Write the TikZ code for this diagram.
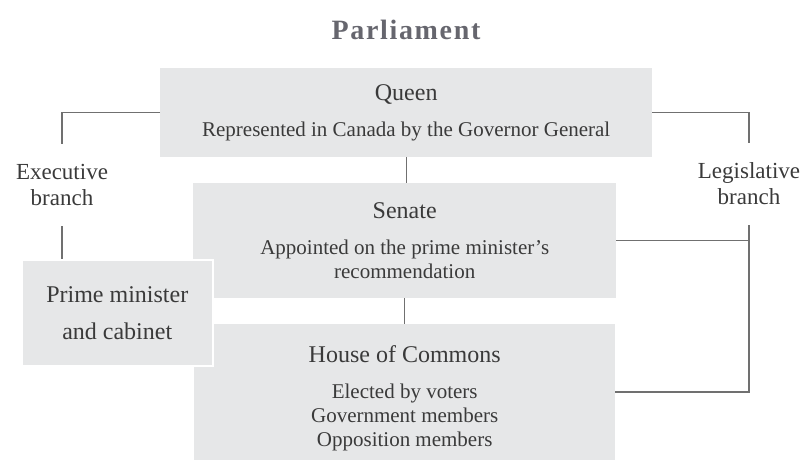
\documentclass[tikz,border=0pt]{standalone}
\usepackage{fontspec}
\setmainfont{Liberation Serif}
\usetikzlibrary{positioning}
\definecolor{myfill}{HTML}{E6E7E8}
\definecolor{mygray}{HTML}{707070}
\definecolor{mytext}{HTML}{3A3A3A}
\definecolor{mytitle}{HTML}{66666E}

\begin{document}
\begin{tikzpicture}[
  x=1pt, y=-1pt,
  mybox/.style={
    fill=myfill,
    text=mytext,
    align=center,
    inner sep=0pt,
    anchor=north west,
    font=\fontsize{21}{24}\selectfont
    },
  mylabel/.style={
    text=mytext,
    align=center,
    inner sep=0pt,
    font=\fontsize{23}{26}\selectfont
    },
  myline/.style={
    draw=mygray,
    line width=1.1pt
    }
]

\useasboundingbox (0,0) rectangle (806,459);

\node[mylabel, text=mytitle, font=\fontsize{28}{30}\selectfont\bfseries\addfontfeature{LetterSpace=6}]
  (title) at (406,30) {Parliament};

\node[mybox, minimum width=492pt, minimum height=89pt]
  (queen) at (160,68)
  {{\fontsize{24}{24}\selectfont Queen}\\[12pt]
   Represented in Canada by the Governor General};

\node[mybox, minimum width=423pt, minimum height=115pt]
  (senate) at (193,183)
  {{\fontsize{24}{24}\selectfont Senate}\\[12pt]
   Appointed on the prime minister's\\
   recommendation};

\node[mybox, minimum width=421pt, minimum height=148pt]
  (commons) at (194,324)
  {{\fontsize{24}{24}\selectfont House of Commons}\\[12pt]
   Elected by voters\\
   Government members\\
   Opposition members};

\node[mybox, draw=white, line width=1.5pt, minimum width=191pt, minimum height=106pt,
  font=\fontsize{24}{24}\selectfont]
  (pm) at (21,259)
  {Prime minister\\[13pt]
   and cabinet};

\node[mylabel, minimum height=82pt] (exec) at (62,185) {Executive\\branch};
\node[mylabel, minimum height=82pt] (legis) at (749,184) {Legislative\\branch};

% connectors
\draw[myline] (queen.west) -| (exec.north);
\draw[myline] (exec.south) -- (exec.south |- pm.north);
\draw[myline] (queen.east) -| (legis.north);
\draw[myline] (senate.east) -| (legis.south);
\draw[myline] (legis.south) |- (commons.east |- 0,392);
\draw[myline] (queen.south) -- (queen.south |- senate.north);
\draw[myline] (senate.south) -- (senate.south |- commons.north);

\end{tikzpicture}
\end{document}
